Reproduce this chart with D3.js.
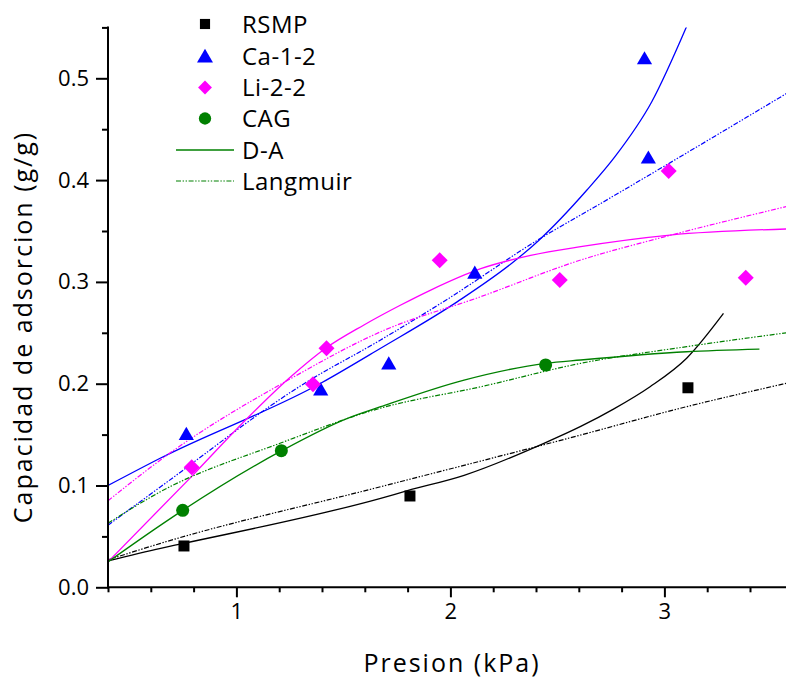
<!DOCTYPE html>
<html>
<head>
<meta charset="utf-8">
<script src="https://cdn.jsdelivr.net/npm/d3@7"></script>
<style>
  html, body { margin: 0; padding: 0; background: #fff; }
  svg { display: block; font-family: "Open Sans", "Noto Sans", sans-serif; }
</style>
</head>
<body>
<svg id="chart" width="786" height="677"></svg>
<script>
// Measured adsorption points (pressure in kPa, capacity in g/g)
const rsmpX = [0.755, 1.811, 3.110];
const rsmpY = [0.0406, 0.0897, 0.196];
const ca12X = [0.766, 1.394, 1.712, 2.114, 2.907, 2.925];
const ca12Y = [0.1506, 0.1943, 0.2198, 0.309, 0.5195, 0.422];
const li22X = [0.791, 1.358, 1.421, 1.950, 2.511, 3.020, 3.380];
const li22Y = [0.1179, 0.1994, 0.2348, 0.3212, 0.3019, 0.409, 0.304];
const cagX = [0.749, 1.210, 2.445];
const cagY = [0.0756, 0.1342, 0.2184];

// D-A model curves
const rsmpDaX = [0.4, 0.646, 0.755, 1.674, 1.799, 2.064, 2.437, 2.609, 2.762, 2.933, 3.104, 3.276];
const rsmpDaY = [0.026, 0.0383, 0.0432, 0.0874, 0.0949, 0.110, 0.1414, 0.158, 0.175, 0.197, 0.225, 0.269];
const ca12DaX = [0.4, 0.646, 1.394, 1.674, 2.033, 2.297, 2.414, 2.637, 2.769, 2.941, 3.104];
const ca12DaY = [0.1, 0.127, 0.2004, 0.2348, 0.2806, 0.320, 0.341, 0.390, 0.423, 0.477, 0.551];
const li22DaX = [0.4, 0.789, 1.051, 1.246, 1.417, 1.596, 1.768, 1.908, 2.142, 2.375, 2.609, 3.026, 3.57];
const li22DaY = [0.025, 0.1085, 0.166, 0.2053, 0.2348, 0.2577, 0.2773, 0.292, 0.313, 0.326, 0.3346, 0.346, 0.352];
const cagDaX = [0.4, 0.646, 0.749, 1.21, 1.519, 1.674, 2.064, 2.445, 2.609, 3.104, 3.444];
const cagDaY = [0.025, 0.0611, 0.0756, 0.134, 0.166, 0.1774, 0.2036, 0.220, 0.2233, 0.2314, 0.234];

// Langmuir model curves
const rsmpLX = [0.4, 0.646, 1.674, 2.609, 3.058, 3.57];
const rsmpLY = [0.027, 0.0432, 0.0988, 0.1496, 0.175, 0.2004];
const ca12LX = [0.4, 0.646, 1.316, 1.674, 1.986, 2.407, 2.738, 3.57];
const ca12LY = [0.061, 0.0988, 0.200, 0.243, 0.283, 0.341, 0.3814, 0.485];
const li22LX = [0.4, 0.677, 1.254, 1.674, 2.142, 2.609, 2.995, 3.57];
const li22LY = [0.085, 0.130, 0.205, 0.251, 0.2855, 0.3215, 0.344, 0.374];
const cagLX = [0.4, 0.646, 1.21, 1.674, 2.142, 2.609, 3.104, 3.57];
const cagLY = [0.063, 0.094, 0.142, 0.176, 0.197, 0.220, 0.2364, 0.250];

// Axis ticks
const xMajorTicks = [1, 2, 3];
const xMinorTicks = [0.4, 0.6, 0.8, 1.2, 1.4, 1.6, 1.8, 2.2, 2.4, 2.6, 2.8, 3.2, 3.4, 3.6];
const yMajorTicks = [0, 0.1, 0.2, 0.3, 0.4, 0.5];
const yMinorTicks = [0.05, 0.15, 0.25, 0.35, 0.45, 0.55];

const legendLabels = ["RSMP", "Ca-1-2", "Li-2-2", "CAG", "D-A", "Langmuir"];

const svg = d3.select("#chart");
const x = d3.scaleLinear().domain([0.4, 3.6]).range([108, 792.8]);
const y = d3.scaleLinear().domain([0, 0.55]).range([587.3, 27.4]);

const zip = (xs, ys) => xs.map((v, i) => [v, ys[i]]);

svg.append("defs").append("clipPath").attr("id", "plot")
  .append("rect").attr("x", 108).attr("y", 27.4).attr("width", 700).attr("height", 560);

const series = [
  { color: "#000000", pts: zip(rsmpX, rsmpY), da: zip(rsmpDaX, rsmpDaY), lg: zip(rsmpLX, rsmpLY), shape: "square" },
  { color: "#0000ff", pts: zip(ca12X, ca12Y), da: zip(ca12DaX, ca12DaY), lg: zip(ca12LX, ca12LY), shape: "triangle" },
  { color: "#ff00ff", pts: zip(li22X, li22Y), da: zip(li22DaX, li22DaY), lg: zip(li22LX, li22LY), shape: "diamond" },
  { color: "#008000", pts: zip(cagX, cagY), da: zip(cagDaX, cagDaY), lg: zip(cagLX, cagLY), shape: "circle" }
];

const line = d3.line().x(d => x(d[0])).y(d => y(d[1])).curve(d3.curveMonotoneX);
const langDash = "5,1.6,1.4,1.6,1.4,1.6";

const curves = svg.append("g").attr("clip-path", "url(#plot)");
series.forEach(s => {
  curves.append("path").attr("d", line(s.lg)).attr("fill", "none")
    .attr("stroke", s.color).attr("stroke-width", 1.2).attr("stroke-dasharray", langDash);
  curves.append("path").attr("d", line(s.da)).attr("fill", "none")
    .attr("stroke", s.color).attr("stroke-width", 1.3);
});

// Marker symbols
const symbolFor = {
  square: d3.symbol().type(d3.symbolSquare).size(121),
  triangle: d3.symbol().type(d3.symbolTriangle).size(100),
  diamond: d3.symbol().type(d3.symbolSquare).size(128),
  circle: d3.symbol().type(d3.symbolCircle).size(133)
};
function marker(g, shape, cx, cy, color) {
  const p = g.append("path").attr("d", symbolFor[shape]()).attr("fill", color);
  if (shape === "diamond") p.attr("transform", `translate(${cx},${cy}) rotate(45)`);
  else if (shape === "triangle") p.attr("transform", `translate(${cx},${cy + 1.5})`);
  else p.attr("transform", `translate(${cx},${cy})`);
}
const marks = svg.append("g");
series.forEach(s => s.pts.forEach(d => marker(marks, s.shape, x(d[0]), y(d[1]), s.color)));

// Axes
const xAxisG = svg.append("g").attr("transform", `translate(0,${y(0)})`);
xAxisG.append("g").call(d3.axisBottom(x).tickValues(xMinorTicks).tickSize(5).tickFormat(""))
  .call(g => g.select(".domain").remove());
xAxisG.append("g").call(d3.axisBottom(x).tickValues(xMajorTicks).tickSize(10).tickPadding(6).tickFormat(d3.format("d")))
  .call(g => g.select(".domain").remove());
xAxisG.selectAll("line").attr("stroke", "#000").attr("stroke-width", 2);
xAxisG.selectAll("text").attr("font-size", 22).attr("fill", "#000").attr("font-family", "Open Sans");
xAxisG.append("line").attr("x1", 107).attr("x2", 786).attr("stroke", "#000").attr("stroke-width", 2);

const yAxisG = svg.append("g").attr("transform", `translate(${x(0.4)},0)`);
yAxisG.append("g").call(d3.axisLeft(y).tickValues(yMinorTicks).tickSize(6).tickFormat(""))
  .call(g => g.select(".domain").remove());
yAxisG.append("g").call(d3.axisLeft(y).tickValues(yMajorTicks).tickSize(12).tickPadding(7).tickFormat(d3.format(".1f")))
  .call(g => g.select(".domain").remove());
yAxisG.selectAll("line").attr("stroke", "#000").attr("stroke-width", 2);
yAxisG.selectAll("text").attr("font-size", 22).attr("fill", "#000").attr("font-family", "Open Sans");
yAxisG.append("line").attr("y1", y(0) + 1).attr("y2", y(0.55) - 1).attr("stroke", "#000").attr("stroke-width", 2);

// Axis titles
svg.append("text").attr("x", 452).attr("y", 671.5).attr("text-anchor", "middle")
  .attr("font-size", 25).attr("letter-spacing", 2).attr("fill", "#000").text("Presion (kPa)");
svg.append("text").attr("transform", "translate(32,327) rotate(-90)").attr("text-anchor", "middle")
  .attr("font-size", 25).attr("letter-spacing", 2).attr("fill", "#000").text("Capacidad de adsorcion (g/g)");

// Legend
const legend = svg.append("g");
const rowY = [24, 56.5, 87.5, 118.5, 150, 181];
series.forEach((s, i) => {
  const sizeScale = { square: 0.85, triangle: 1.1, diamond: 0.75, circle: 0.9 };
  const p = legend.append("path")
    .attr("d", d3.symbol().type(s.shape === "circle" ? d3.symbolCircle : s.shape === "triangle" ? d3.symbolTriangle : d3.symbolSquare)
      .size(symbolFor[s.shape].size()() * sizeScale[s.shape])())
    .attr("fill", s.color);
  if (s.shape === "diamond") p.attr("transform", `translate(205,${rowY[i]}) rotate(45)`);
  else p.attr("transform", `translate(205,${rowY[i] + (s.shape === "triangle" ? 1.5 : 0)})`);
});
legend.append("line").attr("x1", 176).attr("x2", 234).attr("y1", rowY[4]).attr("y2", rowY[4])
  .attr("stroke", "#008000").attr("stroke-width", 1.3);
legend.append("line").attr("x1", 176).attr("x2", 234).attr("y1", rowY[5]).attr("y2", rowY[5])
  .attr("stroke", "#008000").attr("stroke-width", 1.2).attr("stroke-dasharray", langDash);
legendLabels.forEach((t, i) => {
  legend.append("text").attr("x", 242).attr("y", rowY[i] + 8.7).attr("font-size", 24)
    .attr("letter-spacing", 0.5).attr("fill", "#000").text(t);
});
</script>
</body>
</html>
